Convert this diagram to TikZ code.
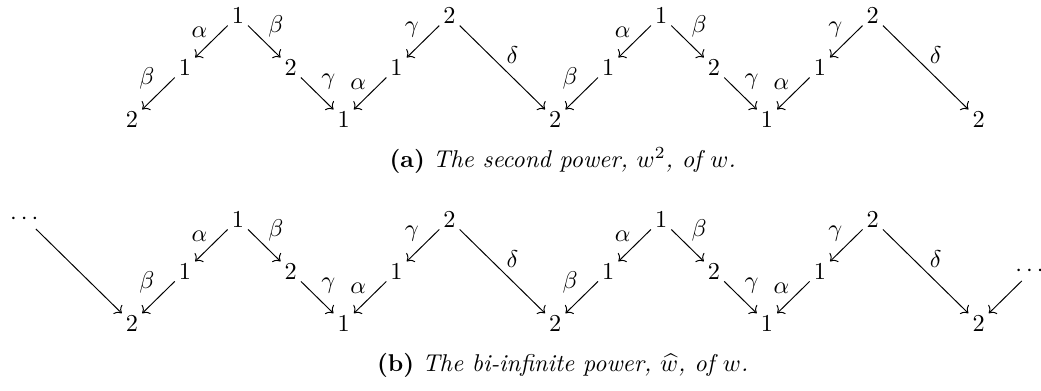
\documentclass[tikz,border=0pt]{standalone}
\usepackage{amsmath,amssymb}
\usepackage{tikz}
\usetikzlibrary{arrows.meta}

\begin{document}
\begin{tikzpicture}[
  x=21.8pt,y=21.4pt,
  vtx/.style={inner sep=1.5pt},
  lbl/.style={inner sep=1.5pt},
  arr/.style={-{Computer Modern Rightarrow},thin},
  capt/.style={anchor=base,inner sep=0pt}
]
\useasboundingbox (-2.495,-5.22) rectangle (17.18,2.30);
\node[vtx] (a0) at (0,0) {$2$};
\node[vtx] (a1) at (1,1) {$1$};
\node[vtx] (a2) at (2,2) {$1$};
\node[vtx] (a3) at (3,1) {$2$};
\node[vtx] (a4) at (4,0) {$1$};
\node[vtx] (a5) at (5,1) {$1$};
\node[vtx] (a6) at (6,2) {$2$};
\node[vtx] (a8) at (8,0) {$2$};
\node[vtx] (a9) at (9,1) {$1$};
\node[vtx] (a10) at (10,2) {$1$};
\node[vtx] (a11) at (11,1) {$2$};
\node[vtx] (a12) at (12,0) {$1$};
\node[vtx] (a13) at (13,1) {$1$};
\node[vtx] (a14) at (14,2) {$2$};
\node[vtx] (a16) at (16,0) {$2$};
\draw[arr] (a1) -- node[lbl,above left] {$\beta$} (a0);
\draw[arr] (a2) -- node[lbl,above left] {$\alpha$} (a1);
\draw[arr] (a2) -- node[lbl,above right] {$\beta$} (a3);
\draw[arr] (a3) -- node[lbl,above right] {$\gamma$} (a4);
\draw[arr] (a5) -- node[lbl,above left] {$\alpha$} (a4);
\draw[arr] (a6) -- node[lbl,above left] {$\gamma$} (a5);
\draw[arr] (a6) -- node[lbl,above right] {$\delta$} (a8);
\draw[arr] (a9) -- node[lbl,above left] {$\beta$} (a8);
\draw[arr] (a10) -- node[lbl,above left] {$\alpha$} (a9);
\draw[arr] (a10) -- node[lbl,above right] {$\beta$} (a11);
\draw[arr] (a11) -- node[lbl,above right] {$\gamma$} (a12);
\draw[arr] (a13) -- node[lbl,above left] {$\alpha$} (a12);
\draw[arr] (a14) -- node[lbl,above left] {$\gamma$} (a13);
\draw[arr] (a14) -- node[lbl,above right] {$\delta$} (a16);
\node[capt] (capa) at (8.14,-0.93) {\textbf{(a)} \textit{The second power, $w^2$, of $w$.}};

\begin{scope}[yshift=-84pt]
\node[vtx] (bl) at (-2,2) {$\cdots$};
\node[vtx] (b0) at (0,0) {$2$};
\node[vtx] (b1) at (1,1) {$1$};
\node[vtx] (b2) at (2,2) {$1$};
\node[vtx] (b3) at (3,1) {$2$};
\node[vtx] (b4) at (4,0) {$1$};
\node[vtx] (b5) at (5,1) {$1$};
\node[vtx] (b6) at (6,2) {$2$};
\node[vtx] (b8) at (8,0) {$2$};
\node[vtx] (b9) at (9,1) {$1$};
\node[vtx] (b10) at (10,2) {$1$};
\node[vtx] (b11) at (11,1) {$2$};
\node[vtx] (b12) at (12,0) {$1$};
\node[vtx] (b13) at (13,1) {$1$};
\node[vtx] (b14) at (14,2) {$2$};
\node[vtx] (b16) at (16,0) {$2$};
\node[vtx] (br) at (17,1) {$\cdots$};
\draw[arr] (bl) -- (b0);
\draw[arr] (b1) -- node[lbl,above left] {$\beta$} (b0);
\draw[arr] (b2) -- node[lbl,above left] {$\alpha$} (b1);
\draw[arr] (b2) -- node[lbl,above right] {$\beta$} (b3);
\draw[arr] (b3) -- node[lbl,above right] {$\gamma$} (b4);
\draw[arr] (b5) -- node[lbl,above left] {$\alpha$} (b4);
\draw[arr] (b6) -- node[lbl,above left] {$\gamma$} (b5);
\draw[arr] (b6) -- node[lbl,above right] {$\delta$} (b8);
\draw[arr] (b9) -- node[lbl,above left] {$\beta$} (b8);
\draw[arr] (b10) -- node[lbl,above left] {$\alpha$} (b9);
\draw[arr] (b10) -- node[lbl,above right] {$\beta$} (b11);
\draw[arr] (b11) -- node[lbl,above right] {$\gamma$} (b12);
\draw[arr] (b13) -- node[lbl,above left] {$\alpha$} (b12);
\draw[arr] (b14) -- node[lbl,above left] {$\gamma$} (b13);
\draw[arr] (b14) -- node[lbl,above right] {$\delta$} (b16);
\draw[arr] (br) -- (b16);
\node[capt] (capb) at (8.14,-0.93) {\textbf{(b)} \textit{The bi-infinite power, $\widehat{w}$, of $w$.}};
\end{scope}
\end{tikzpicture}
\end{document}
